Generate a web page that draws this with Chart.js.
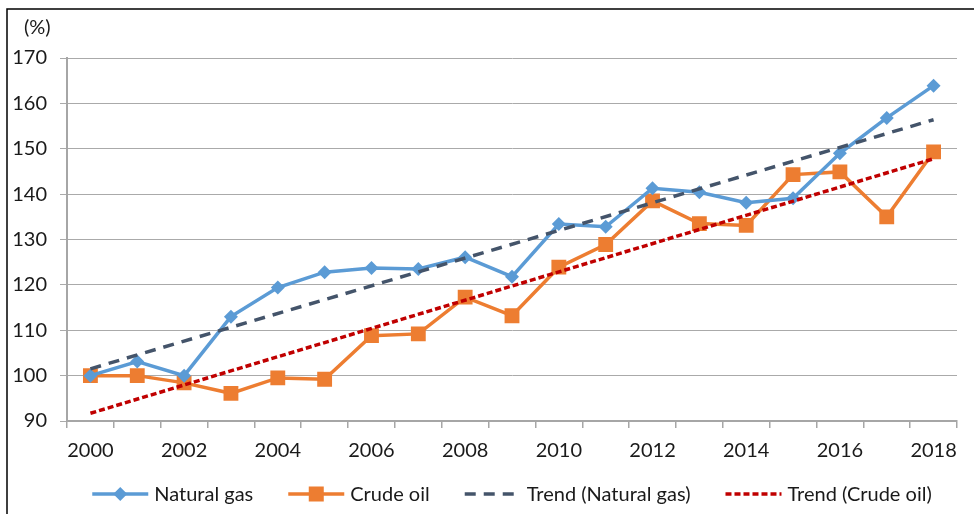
<!DOCTYPE html>
<html>
<head>
<meta charset="utf-8">
<script src="https://cdn.jsdelivr.net/npm/chart.js@4.4.1/dist/chart.umd.min.js"></script>
<style>
  html, body { margin: 0; padding: 0; background: #fff; }
  #wrap { width: 974px; height: 514px; position: relative; }
</style>
</head>
<body>
<div id="wrap"><canvas id="chart" width="974" height="514"></canvas></div>
<script>
// dados
const years = ['2000', '2001', '2002', '2003', '2004', '2005', '2006', '2007', '2008', '2009',
  '2010', '2011', '2012', '2013', '2014', '2015', '2016', '2017', '2018'];
const naturalGas = [100.0, 103.1, 100.0, 113.0, 119.4, 122.8, 123.7, 123.5, 126.1, 121.8,
  133.4, 132.8, 141.3, 140.4, 138.1, 139.1, 149.0, 156.8, 163.9];
const crudeOil = [100.0, 100.0, 98.4, 96.1, 99.5, 99.2, 108.8, 109.2, 117.3, 113.2,
  123.9, 128.9, 138.5, 133.5, 133.1, 144.3, 144.9, 135.0, 149.3];
// tendências: só os extremos (2000 e 2018), linha reta entre eles
const trendGasEnds = [101.5, 156.4];
const trendOilEnds = [91.7, 147.8];
const yMin = 90, yMax = 170, yStep = 10;

const FONT = 'Lato, "Open Sans", sans-serif';
const FONT_SIZE = 20;
const TEXT_COLOR = '#1a1a1a';
const colors = {
  gas: '#5B9BD5',
  oil: '#ED7D31',
  trendGas: '#44546A',
  trendOil: '#C00000'
};

function endsToSeries(ends) {
  const arr = years.map(() => null);
  arr[0] = ends[0];
  arr[arr.length - 1] = ends[1];
  return arr;
}

// legenda desenhada à mão (linha + marcador)
const legendItems = [
  { text: 'Natural gas', color: colors.gas, dash: [], marker: 'diamond' },
  { text: 'Crude oil', color: colors.oil, dash: [], marker: 'square' },
  { text: 'Trend (Natural gas)', color: colors.trendGas, dash: [11, 8], marker: null },
  { text: 'Trend (Crude oil)', color: colors.trendOil, dash: [6, 3], marker: null }
];

const decorPlugin = {
  id: 'decor',
  beforeDraw(chart) {
    const ctx = chart.ctx;
    ctx.save();
    ctx.fillStyle = '#fff';
    ctx.fillRect(0, 0, chart.width, chart.height);
    // moldura (topo e esquerda)
    ctx.strokeStyle = '#000';
    ctx.lineWidth = 1.5;
    ctx.beginPath();
    ctx.moveTo(7, chart.height);
    ctx.lineTo(7, 9);
    ctx.lineTo(chart.width, 9);
    ctx.stroke();
    ctx.restore();
  },
  afterDraw(chart) {
    const ctx = chart.ctx;
    const area = chart.chartArea;
    ctx.save();
    ctx.font = FONT_SIZE + 'px ' + FONT;
    ctx.fillStyle = TEXT_COLOR;
    ctx.textBaseline = 'middle';
    ctx.textAlign = 'left';
    ctx.fillText('(%)', 24, 28);

    // legenda
    const lineW = 56, gapText = 6, gapItem = 35;
    const widths = legendItems.map(it => lineW + gapText + ctx.measureText(it.text).width);
    const total = widths.reduce((a, b) => a + b, 0) + gapItem * (legendItems.length - 1);
    let x = (area.left + area.right) / 2 - total / 2;
    const y = 494;
    legendItems.forEach((it, i) => {
      ctx.strokeStyle = it.color;
      ctx.lineWidth = 3.5;
      ctx.setLineDash(it.dash);
      ctx.beginPath();
      ctx.moveTo(x, y);
      ctx.lineTo(x + lineW, y);
      ctx.stroke();
      ctx.setLineDash([]);
      const cx = x + lineW / 2;
      ctx.fillStyle = it.color;
      if (it.marker === 'diamond') {
        ctx.beginPath();
        ctx.moveTo(cx, y - 7);
        ctx.lineTo(cx + 7, y);
        ctx.lineTo(cx, y + 7);
        ctx.lineTo(cx - 7, y);
        ctx.closePath();
        ctx.fill();
      } else if (it.marker === 'square') {
        ctx.fillRect(cx - 7.5, y - 7.5, 15, 15);
      }
      ctx.fillStyle = TEXT_COLOR;
      ctx.fillText(it.text, x + lineW + gapText, y + 1);
      x += widths[i] + gapItem;
    });
    ctx.restore();
  }
};

new Chart(document.getElementById('chart'), {
  type: 'line',
  data: {
    labels: years,
    datasets: [
      {
        label: 'Natural gas',
        data: naturalGas,
        borderColor: colors.gas,
        backgroundColor: colors.gas,
        borderWidth: 3.5,
        pointStyle: 'rectRot',
        pointRadius: 7,
        pointBorderWidth: 0,
        tension: 0,
        order: 3
      },
      {
        label: 'Crude oil',
        data: crudeOil,
        borderColor: colors.oil,
        backgroundColor: colors.oil,
        borderWidth: 3.5,
        pointStyle: 'rect',
        pointRadius: 10.5,
        pointBorderWidth: 0,
        tension: 0,
        order: 4
      },
      {
        label: 'Trend (Natural gas)',
        data: endsToSeries(trendGasEnds),
        borderColor: colors.trendGas,
        borderWidth: 3.5,
        borderDash: [11, 8],
        pointRadius: 0,
        spanGaps: true,
        order: 1
      },
      {
        label: 'Trend (Crude oil)',
        data: endsToSeries(trendOilEnds),
        borderColor: colors.trendOil,
        borderWidth: 3.5,
        borderDash: [6, 3],
        pointRadius: 0,
        spanGaps: true,
        order: 2
      }
    ]
  },
  options: {
    responsive: false,
    animation: false,
    layout: { padding: { top: 58, right: 17, left: 0, bottom: 0 } },
    plugins: {
      legend: { display: false },
      tooltip: { enabled: false }
    },
    scales: {
      x: {
        offset: true,
        grid: {
          offset: true,
          drawOnChartArea: false,
          drawTicks: true,
          tickLength: 7,
          color: '#a6a6a6',
          lineWidth: 1.5
        },
        border: { color: '#a6a6a6', width: 2 },
        ticks: {
          autoSkip: false,
          maxRotation: 0,
          padding: 11,
          color: TEXT_COLOR,
          font: { family: FONT, size: FONT_SIZE },
          callback: function (val, idx) {
            return idx % 2 === 0 ? years[idx] : '';
          }
        },
        afterFit(scale) { scale.height = 93; }
      },
      y: {
        min: yMin,
        max: yMax,
        ticks: {
          stepSize: yStep,
          padding: 13,
          color: TEXT_COLOR,
          font: { family: FONT, size: FONT_SIZE }
        },
        grid: {
          color: '#aaaaaa',
          lineWidth: 1,
          tickLength: 7
        },
        border: { color: '#a6a6a6', width: 2 },
        afterFit(scale) { scale.width = 67; }
      }
    }
  },
  plugins: [decorPlugin]
});
</script>
</body>
</html>
